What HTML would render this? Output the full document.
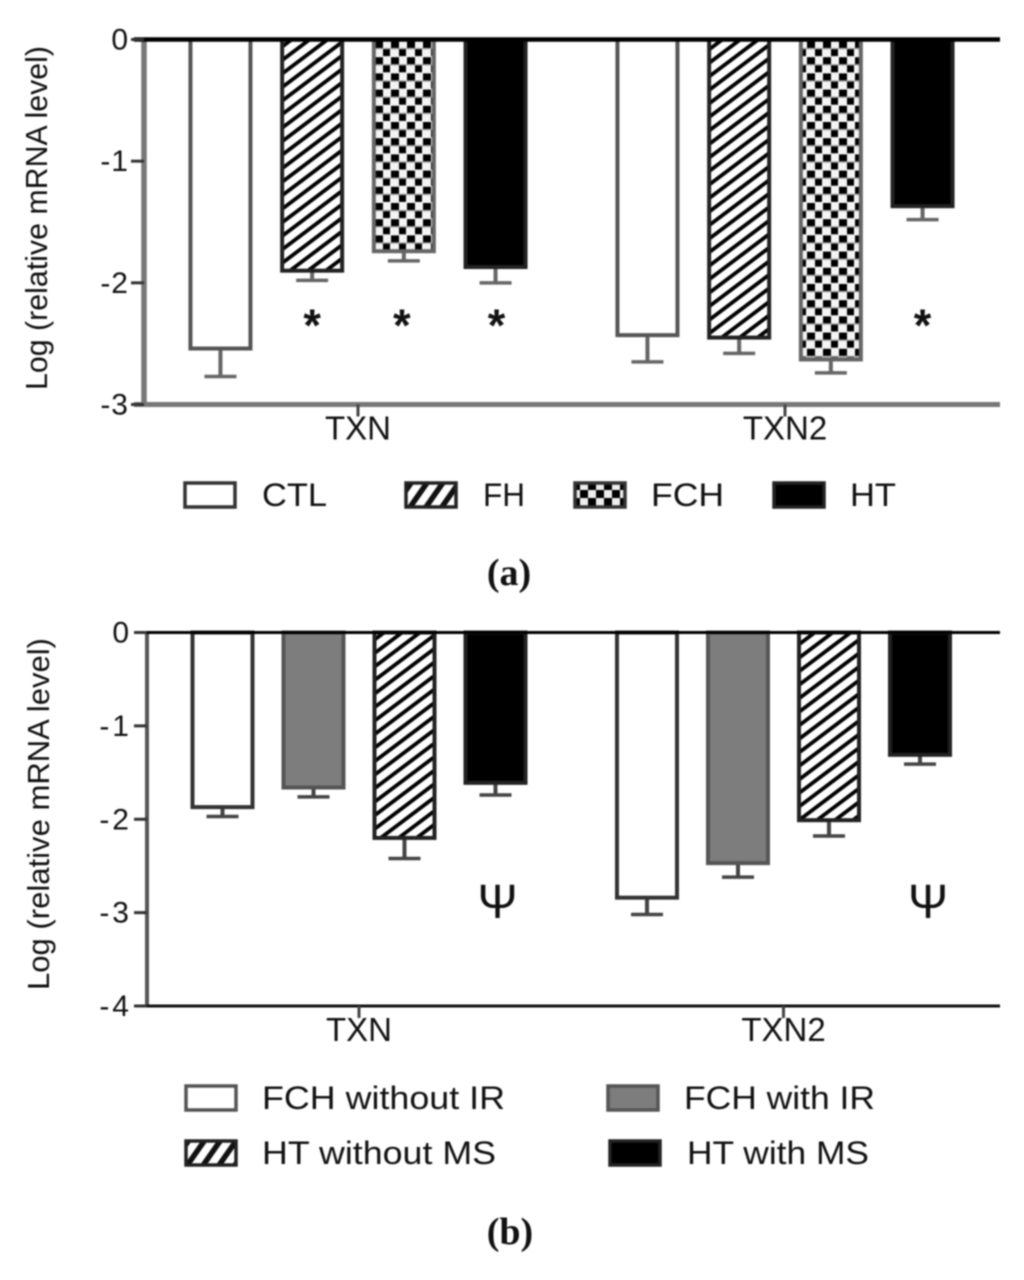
<!DOCTYPE html>
<html lang="en">
<head>
<meta charset="utf-8">
<title>TXN and TXN2 relative mRNA levels</title>
<style>
html,body{margin:0;padding:0;background:#fff;}
svg{display:block;filter:blur(0.9px);}
text{font-family:"Liberation Sans",sans-serif;fill:#111;}
.serif{font-family:"Liberation Serif",serif;font-weight:bold;}
</style>
</head>
<body>
<svg id="fig" xmlns="http://www.w3.org/2000/svg" width="1024" height="1280" viewBox="0 0 1024 1280">
<defs>
<pattern id="hatch" patternUnits="userSpaceOnUse" width="10.8" height="10.8" patternTransform="rotate(-37)"><rect width="10.8" height="10.8" fill="#fff"/><rect width="10.8" height="3.8" fill="#000"/></pattern>
<pattern id="hatchLegend" patternUnits="userSpaceOnUse" width="13" height="13" patternTransform="rotate(-55)"><rect width="13" height="13" fill="#fff"/><rect width="13" height="5.5" fill="#111"/></pattern>
<pattern id="check" patternUnits="userSpaceOnUse" width="16" height="16.2" x="374" y="41"><rect width="16" height="16.2" fill="#f4f4f4"/><rect x="1" y="0" width="8" height="7" fill="#000"/><rect x="9" y="8.1" width="8" height="7" fill="#000"/><rect y="7" width="16" height="1.2" fill="#999"/></pattern>
<pattern id="checkLegend" patternUnits="userSpaceOnUse" width="16" height="16" x="572" y="482"><rect width="16" height="16" fill="#eee"/><rect x="0" y="0" width="8" height="8" fill="#000"/><rect x="8" y="8" width="8" height="8" fill="#000"/></pattern>
</defs>
</svg>
<script>
// ---- Data, panel (a) ----
const categories = ['TXN', 'TXN2'];
const aTickLabels = [0, -1, -2, -3];
const aSeriesNames = ['CTL', 'FH', 'FCH', 'HT'];
const aCTL = [-2.54, -2.43];
const aCTLErr = [0.23, 0.22];
const aFH = [-1.90, -2.45];
const aFHErr = [0.08, 0.13];
const aFCH = [-1.74, -2.63];
const aFCHErr = [0.08, 0.11];
const aHT = [-1.87, -1.37];
const aHTErr = [0.13, 0.11];
// ---- Data, panel (b) ----
const bTickLabels = [0, -1, -2, -3, -4];
const bSeriesNames = ['FCH without IR', 'FCH with IR', 'HT without MS', 'HT with MS'];
const bFCHnoIR = [-1.87, -2.84];
const bFCHnoIRErr = [0.10, 0.18];
const bFCHIR = [-1.66, -2.47];
const bFCHIRErr = [0.10, 0.15];
const bHTnoMS = [-2.20, -2.01];
const bHTnoMSErr = [0.22, 0.17];
const bHTMS = [-1.61, -1.31];
const bHTMSErr = [0.13, 0.10];

const NS = 'http://www.w3.org/2000/svg';
const fig = document.getElementById('fig');

function make(tag, attrs, parent, txt) {
  const el = document.createElementNS(NS, tag);
  for (const k in attrs) el.setAttribute(k, attrs[k]);
  if (txt !== undefined) el.textContent = txt;
  (parent || fig).appendChild(el);
  return el;
}

function drawPanel(cfg) {
  const g = make('g', {});
  
  

  const yMin = cfg.ticks[cfg.ticks.length - 1];
  const yAxis = v => cfg.y0 + (v / yMin) * (cfg.yBottom - cfg.y0);
  const xGroup = i => cfg.groupX + i * cfg.groupGap;
  const xBar = (i, s) => xGroup(i) + (s - 1.5) * cfg.step;

  // bars and error bars
  cfg.series.forEach((ser, s) => {
    ser.values.forEach((v, i) => {
      const cx = xBar(i, s);
      const yv = yAxis(v);
      const yErr = yAxis(v - ser.err[i]);
      const stem = make('line', {x1: cx, x2: cx, y1: yv, y2: yErr, stroke: cfg.errColor, 'stroke-width': 4}, g);
      
      
      const cap = make('line', {x1: cx - 16, x2: cx + 16, y1: yErr, y2: yErr, stroke: cfg.errColor, 'stroke-width': 3.5}, g);
      
      
      const bar = make('rect', {x: cx - 30, y: cfg.y0, width: 60, height: yv - cfg.y0, fill: ser.fill, stroke: ser.stroke, 'stroke-width': 4}, g);
      
      
    });
  });

  // axes
  const left = make('line', {x1: cfg.axisX, x2: cfg.axisX, y1: cfg.y0, y2: cfg.yBottom, stroke: cfg.axisColor, 'stroke-width': cfg.axisW}, g);
  
  
  const top = make('line', {x1: cfg.axisX - 10, x2: 1000, y1: cfg.y0, y2: cfg.y0, stroke: '#000', 'stroke-width': cfg.topW}, g);
  
  
  const bottom = make('line', {x1: cfg.axisX - 10, x2: 1000, y1: cfg.yBottom, y2: cfg.yBottom, stroke: cfg.bottomColor, 'stroke-width': cfg.bottomW}, g);
  
  

  // y ticks
  cfg.ticks.forEach(t => {
    const y = yAxis(t);
    const tick = make('line', {x1: cfg.axisX - 13, x2: cfg.axisX, y1: y, y2: y, stroke: '#333', 'stroke-width': 3}, g);
    
    
    const lab = make('text', {x: cfg.axisX - 15, y: y + 10, 'text-anchor': 'end', 'font-size': 30, 'letter-spacing': cfg.tickSpacing}, g, String(t));
    
    
  });

  // x ticks + labels
  categories.forEach((c, i) => {
    const x = xGroup(i);
    const tick = make('line', {x1: x, x2: x, y1: cfg.yBottom, y2: cfg.yBottom + 12, stroke: '#444', 'stroke-width': 3}, g);
    
    
    const lab = make('text', {x: x, y: cfg.yBottom + 35, 'text-anchor': 'middle', 'font-size': 33}, g, c);
    
    
  });

  // y title
  const title = make('text', {transform: 'translate(' + cfg.titleX + ',' + cfg.titleY + ') rotate(-90)', 'font-size': 31, textLength: cfg.titleLen, lengthAdjust: 'spacingAndGlyphs'}, g, 'Log (relative mRNA level)');
  
  

  // significance marks
  cfg.marks.forEach(m => {
    const t = make('text', {x: xBar(m.group, m.series) + m.dx, y: yAxis(m.value), 'text-anchor': 'middle', 'font-size': m.size, 'font-weight': m.weight, 'class': m.cls}, g, m.glyph);
    
    
  });

  // legend
  cfg.legend.forEach(l => {
    const sw = make('rect', {x: l.x + 2, y: l.y + 2, width: 50, height: 24, fill: l.fill, stroke: l.stroke, 'stroke-width': 3.5}, g);
    
    
    const t = make('text', {x: l.tx, y: l.y + 25, 'font-size': 32, textLength: l.tw, lengthAdjust: 'spacingAndGlyphs'}, g, l.label);
    
    
  });

  // caption
  const cap = make('text', {x: cfg.captionX, y: cfg.captionY, 'text-anchor': 'middle', 'font-size': 38, 'class': 'serif'}, g, cfg.caption);
  
  
}

drawPanel({
  name: 'panel-a', y0: 39.5, yBottom: 404.5, groupX: 358, groupGap: 427, step: 91.7,
  ticks: aTickLabels, axisX: 144, axisW: 5.5, axisColor: '#777', topW: 4.5, bottomColor: '#777', bottomW: 5,
  errColor: '#666', tickSpacing: 1, titleX: 47, titleY: 390, titleLen: 344,
  series: [
    {key: 'ctl', values: aCTL, err: aCTLErr, fill: '#fff', stroke: '#555'},
    {key: 'fh', values: aFH, err: aFHErr, fill: 'url(#hatch)', stroke: '#222'},
    {key: 'fch', values: aFCH, err: aFCHErr, fill: 'url(#check)', stroke: '#666'},
    {key: 'ht', values: aHT, err: aHTErr, fill: '#000', stroke: '#222'}
  ],
  marks: [
    {group: 0, series: 1, dx: 0, value: -2.48, glyph: '*', size: 45, weight: 'bold'},
    {group: 0, series: 2, dx: -2, value: -2.48, glyph: '*', size: 45, weight: 'bold'},
    {group: 0, series: 3, dx: 1, value: -2.48, glyph: '*', size: 45, weight: 'bold'},
    {group: 1, series: 3, dx: 0, value: -2.48, glyph: '*', size: 45, weight: 'bold'}
  ],
  legend: [
    {x: 183, y: 481, fill: '#fff', stroke: '#333', label: aSeriesNames[0], tx: 262, tw: 65},
    {x: 404, y: 481, fill: 'url(#hatchLegend)', stroke: '#222', label: aSeriesNames[1], tx: 483, tw: 42},
    {x: 573, y: 481, fill: 'url(#checkLegend)', stroke: '#333', label: aSeriesNames[2], tx: 651, tw: 73},
    {x: 772, y: 481, fill: '#000', stroke: '#222', label: aSeriesNames[3], tx: 850, tw: 46}
  ],
  caption: '(a)', captionX: 509, captionY: 585
});

drawPanel({
  name: 'panel-b', y0: 632.5, yBottom: 1006, groupX: 359, groupGap: 424.5, step: 91,
  ticks: bTickLabels, axisX: 147, axisW: 4, axisColor: '#555', topW: 3, bottomColor: '#111', bottomW: 3,
  errColor: '#444', tickSpacing: 3, titleX: 49, titleY: 990, titleLen: 352,
  series: [
    {key: 'fch-without-ir', values: bFCHnoIR, err: bFCHnoIRErr, fill: '#fff', stroke: '#333'},
    {key: 'fch-with-ir', values: bFCHIR, err: bFCHIRErr, fill: '#7d7d7d', stroke: '#555'},
    {key: 'ht-without-ms', values: bHTnoMS, err: bHTnoMSErr, fill: 'url(#hatch)', stroke: '#222'},
    {key: 'ht-with-ms', values: bHTMS, err: bHTMSErr, fill: '#000', stroke: '#222'}
  ],
  marks: [
    {group: 0, series: 3, dx: 2, value: -3.06, glyph: 'Ψ', size: 48, weight: 'normal', cls: 'psi'},
    {group: 1, series: 3, dx: 8, value: -3.06, glyph: 'Ψ', size: 48, weight: 'normal', cls: 'psi'}
  ],
  legend: [
    {x: 184, y: 1084, fill: '#fff', stroke: '#555', label: bSeriesNames[0], tx: 262, tw: 243},
    {x: 606, y: 1084, fill: '#7d7d7d', stroke: '#555', label: bSeriesNames[1], tx: 684, tw: 191},
    {x: 184, y: 1139, fill: 'url(#hatchLegend)', stroke: '#222', label: bSeriesNames[2], tx: 262, tw: 234},
    {x: 608, y: 1139, fill: '#000', stroke: '#222', label: bSeriesNames[3], tx: 687, tw: 182}
  ],
  caption: '(b)', captionX: 510, captionY: 1244
});
</script>
</body>
</html>
